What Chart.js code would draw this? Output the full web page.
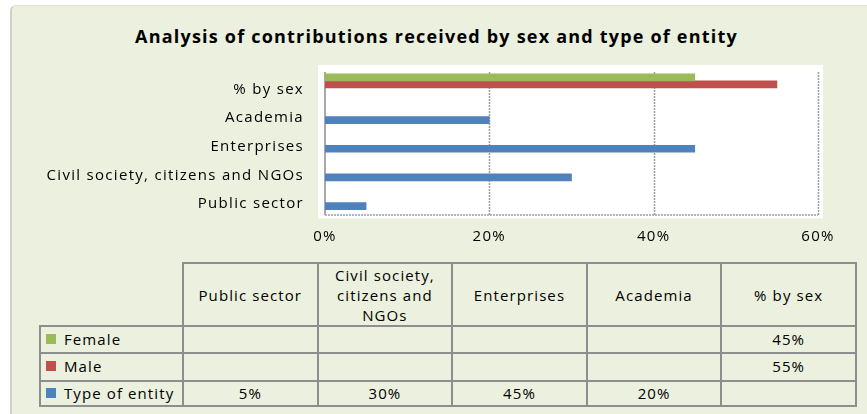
<!DOCTYPE html>
<html><head><meta charset="utf-8">
<script src="https://cdn.jsdelivr.net/npm/chart.js@4"></script>
<style>
html,body{margin:0;padding:0;background:#fff;width:867px;height:414px;overflow:hidden;font-family:'Open Sans',sans-serif;}
#frame{position:absolute;left:10px;top:5px;width:857px;height:409px;background:#EBF1DE;border-left:2px solid #D0D4C6;border-top:1px solid #E0E3D7;border-top-left-radius:6px;box-sizing:border-box;}
#title{position:absolute;left:0;top:24px;width:873px;text-align:center;font-weight:bold;font-size:18px;line-height:24px;letter-spacing:1.2px;color:#000;white-space:nowrap;}
#chartBox{position:absolute;left:0;top:0;width:867px;height:250px;}
#tbl{position:absolute;left:39px;top:262px;border-collapse:collapse;table-layout:fixed;font-size:15px;letter-spacing:1.1px;color:#000;width:816px;}
#tbl td,#tbl th{border:2px solid #8E8E8E;padding:0;font-weight:normal;text-align:center;vertical-align:middle;line-height:19px;}
#tbl th{height:61px;white-space:pre-line;line-height:20px;}
#tbl td.lab{text-align:left;padding-left:5px;white-space:nowrap;}
#tbl th.corner{border:none;}
.key{display:inline-block;width:10px;height:10px;margin-right:8px;vertical-align:1px;}
</style></head>
<body>
<div id="frame"></div>
<div id="title"></div>
<div id="chartBox"><canvas id="c" width="867" height="250"></canvas></div>
<table id="tbl"></table>
<script>
// ---- data ----
const chartTitle = 'Analysis of contributions received by sex and type of entity';
const categories = ['% by sex', 'Academia', 'Enterprises', 'Civil society, citizens and NGOs', 'Public sector'];
const femaleValues = [45, null, null, null, null];
const maleValues = [55, null, null, null, null];
const entityValues = [null, 20, 45, 30, 5];
const xTicks = [0, 20, 40, 60];
const seriesNames = ['Female', 'Male', 'Type of entity'];
const tableHeaders = ['Public sector', 'Civil society,\ncitizens and\nNGOs', 'Enterprises', 'Academia', '% by sex'];
const colors = ['#9BBB59', '#C0504D', '#4F81BD'];

document.getElementById('title').textContent = chartTitle;

// ---- chart ----
const plotDecor = {
  id: 'plotDecor',
  beforeDraw(chart) {
    const { ctx, chartArea: a } = chart;
    ctx.letterSpacing = '1.3px';
    ctx.save();
    ctx.fillStyle = '#FFFFFF';
    ctx.fillRect(a.left - 7, a.top - 5, a.right - a.left + 12, a.bottom - a.top + 10);
    ctx.restore();
  },
  beforeDatasetsDraw(chart) {
    const { ctx, chartArea: a, scales } = chart;
    ctx.save();
    ctx.strokeStyle = '#9C9C9C';
    ctx.lineWidth = 1.5;
    ctx.setLineDash([2, 1]);
    xTicks.forEach(v => {
      if (v === 0) return;
      const x = Math.round(scales.x.getPixelForValue(v)) + 0.5;
      ctx.beginPath();
      ctx.moveTo(x, a.top + 2);
      ctx.lineTo(x, a.bottom + 1.5);
      ctx.stroke();
    });
    ctx.beginPath();
    ctx.moveTo(a.left, a.bottom + 1.5);
    ctx.lineTo(a.right, a.bottom + 1.5);
    ctx.stroke();
    ctx.setLineDash([]);
    ctx.strokeStyle = '#A8A8A8';
    ctx.lineWidth = 2;
    const x0 = Math.round(scales.x.getPixelForValue(0));
    ctx.beginPath();
    ctx.moveTo(x0, a.top + 2);
    ctx.lineTo(x0, a.bottom + 1.5);
    ctx.stroke();
    ctx.restore();
  }
};

const seriesData = [femaleValues, maleValues, entityValues];
new Chart(document.getElementById('c'), {
  type: 'bar',
  data: {
    labels: categories,
    datasets: seriesData.map((d, i) => ({
      label: seriesNames[i],
      data: d,
      backgroundColor: colors[i],
      borderWidth: 0,
      barThickness: 7
    }))
  },
  options: {
    indexAxis: 'y',
    responsive: false,
    animation: false,
    events: [],
    layout: { padding: { left: 0, right: 49, top: 70, bottom: 0 } },
    plugins: {
      legend: { display: false },
      tooltip: { enabled: false },
      title: { display: false }
    },
    scales: {
      x: {
        min: 0, max: 60,
        afterBuildTicks: s => { s.ticks = xTicks.map(v => ({ value: v })); },
        afterFit: s => { s.height = 36.5; },
        ticks: { callback: v => v + '%', color: '#000', font: { family: 'Open Sans', size: 15 }, padding: 14, maxRotation: 0 },
        grid: { display: false, drawTicks: false },
        border: { display: false }
      },
      y: {
        afterFit: s => { s.width = 325; },
        ticks: { color: '#000', font: { family: 'Open Sans', size: 15 }, padding: 21, labelOffset: 5 },
        grid: { display: false, drawTicks: false },
        border: { display: false }
      }
    }
  },
  plugins: [plotDecor]
});

// ---- data table ----
const tbl = document.getElementById('tbl');
const order = [4, 3, 2, 1, 0];
let html = '<colgroup><col style="width:143px">' + order.map(() => '<col style="width:134.6px">').join('') + '</colgroup>';
html += '<tr><th class="corner"></th>' + tableHeaders.map(h => '<th>' + h + '</th>').join('') + '</tr>';
const rowH = [27, 27.5, 25];
seriesData.forEach((d, i) => {
  html += '<tr style="height:' + rowH[i] + 'px"><td class="lab"><span class="key" style="background:' + colors[i] + '"></span>' + seriesNames[i] + '</td>';
  html += order.map(k => '<td>' + (d[k] == null ? '' : d[k] + '%') + '</td>').join('') + '</tr>';
});
tbl.innerHTML = html;
</script>
</body></html>
